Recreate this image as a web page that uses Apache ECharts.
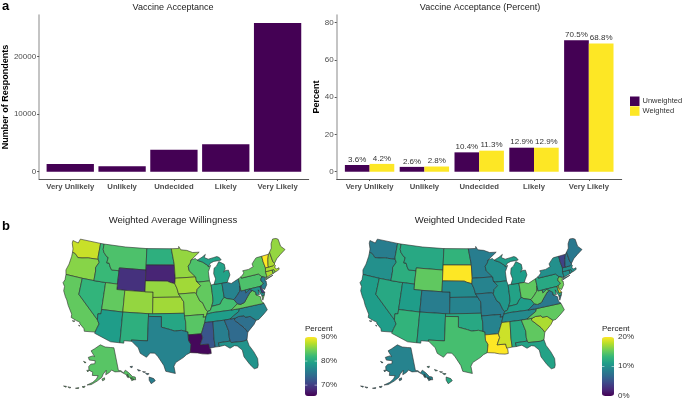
<!DOCTYPE html>
<html><head><meta charset="utf-8">
<style>html,body{margin:0;padding:0;background:#fff}#c{width:685px;height:402px}</style>
<script src="https://cdn.jsdelivr.net/npm/echarts@6/dist/echarts.min.js"></script>
</head><body><div id="c"></div>
<script>
const categories = ['Very Unlikely','Unlikely','Undecided','Likely','Very Likely'];
const categoryPositions = [1,2,3,4,5];
const respondents = [1340, 940, 3830, 4760, 25850];
const unweighted = [3.6, 2.6, 10.4, 12.9, 70.5];
const weighted = [4.2, 2.8, 11.3, 12.9, 68.8];
const countTicks = [0, 10000, 20000];
const percentTicks = [0, 20, 40, 60, 80];
const willingnessTicks = [70, 80, 90];
const undecidedTicks = [0, 10, 20];
const stateNames = ['Washington','Oregon','California','Nevada','Idaho','Montana','Wyoming','Utah','Colorado','Arizona','New Mexico','North Dakota','South Dakota','Nebraska','Kansas','Oklahoma','Texas','Minnesota','Iowa','Missouri','Arkansas','Louisiana','Wisconsin','Illinois','Indiana','Michigan','Ohio','Kentucky','Tennessee','Mississippi','Alabama','Georgia','Florida','South Carolina','North Carolina','Virginia','West Virginia','Pennsylvania','New York','Maryland','Delaware','New Jersey','Connecticut','Rhode Island','Massachusetts','Vermont','New Hampshire','Maine','Alaska','Hawaii'];
const willingness = [88,85.5,84,81.5,82,83,69,84,86,79,81,81,68,86,86.5,80,76.5,86,86.5,85,83.5,66,83,84,80,79.5,76.5,82.5,79,72,76,74,78,74.5,77,84,74,83,84,78,70,76,87,85,87,90,87,86,83.5,76];
const undecided = [8.5,10,11,12,12.5,12,15,11,8.5,13,11.5,13,20,9.5,9,12,14,8.5,9,8.5,9,20,10,10.5,11.5,11,15,11,9.5,18.5,12,15,11.5,17.5,15,8,15,12,10,12,19,15.5,10,10,10,4,8,8,9,12];
const viridis = ['#440154','#482878','#3e4989','#31688e','#26828e','#1f9e89','#35b779','#6ece58','#b5de2b','#fde725'];

// Simplified state outlines as [lon, lat] rings
const stateShapes = {
Washington:[[[-124.7,48.4],[-123.1,48.2],[-122.8,49],[-117.03,49],[-117.04,46.4],[-116.9,46],[-119,45.93],[-119.6,45.92],[-121.2,45.65],[-122.3,45.55],[-122.8,45.9],[-123.4,46.2],[-124,46.25],[-124.1,46.9],[-124.7,47.9]]],
Oregon:[[[-124,46.25],[-123.4,46.2],[-122.8,45.9],[-122.3,45.55],[-121.2,45.65],[-119.6,45.92],[-119,45.93],[-116.9,46],[-116.5,45.5],[-117.2,44.4],[-117.03,43.8],[-117.03,42],[-120,42],[-124.2,42],[-124.5,42.8],[-124.1,44],[-123.95,45.5]]],
California:[[[-124.2,42],[-120,42],[-120,39],[-114.63,35],[-114.13,34.3],[-114.5,33.4],[-114.72,32.72],[-117.12,32.53],[-117.3,33],[-118.4,33.75],[-118.5,34.03],[-119.2,34.15],[-120.6,34.55],[-120.65,35.15],[-121.9,36.6],[-122.5,37.5],[-123,38],[-123.75,39],[-123.8,39.8],[-124.4,40.4],[-124.1,41]],[[-120.2,34],[-119.6,34.05],[-119.9,33.9]],[[-118.6,33.45],[-118.3,33.35],[-118.5,33.3]]],
Nevada:[[[-120,42],[-117.03,42],[-114.04,42],[-114.04,37],[-114.04,36.2],[-114.75,36.1],[-114.63,35],[-120,39]]],
Idaho:[[[-117.03,49],[-116.05,49],[-116.05,48],[-115.7,47.45],[-114.7,46.7],[-114.35,46.65],[-114.5,45.6],[-113.9,45.65],[-113.45,44.95],[-113,44.45],[-111.05,44.48],[-111.05,42],[-114.04,42],[-117.03,42],[-117.03,43.8],[-117.2,44.4],[-116.5,45.5],[-116.9,46],[-117.04,46.4]]],
Montana:[[[-116.05,49],[-110,49],[-104.05,49],[-104.05,45.94],[-104.05,45],[-111.05,45],[-111.05,44.48],[-113,44.45],[-113.45,44.95],[-113.9,45.65],[-114.5,45.6],[-114.35,46.65],[-114.7,46.7],[-115.7,47.45],[-116.05,48]]],
Wyoming:[[[-111.05,45],[-104.05,45],[-104.05,43],[-104.05,41],[-109.05,41],[-111.05,41],[-111.05,42],[-111.05,44.48]]],
Utah:[[[-114.04,42],[-111.05,42],[-111.05,41],[-109.05,41],[-109.05,37],[-114.04,37]]],
Colorado:[[[-109.05,41],[-104.05,41],[-102.05,41],[-102.05,40],[-102.05,37],[-103,37],[-109.05,37]]],
Arizona:[[[-114.04,37],[-109.05,37],[-109.05,31.33],[-111.07,31.33],[-114.81,32.5],[-114.72,32.72],[-114.5,33.4],[-114.13,34.3],[-114.63,35],[-114.75,36.1],[-114.04,36.2]]],
'New Mexico':[[[-109.05,37],[-103,37],[-103,36.5],[-103.04,32],[-106.62,32],[-106.5,31.78],[-108.2,31.78],[-108.2,31.33],[-109.05,31.33]]],
'North Dakota':[[[-104.05,49],[-97.23,49],[-96.55,46],[-96.56,45.94],[-104.05,45.94]]],
'South Dakota':[[[-104.05,45.94],[-96.56,45.94],[-96.45,43.5],[-96.6,42.5],[-97.9,42.8],[-98.5,43],[-104.05,43]]],
Nebraska:[[[-104.05,43],[-98.5,43],[-97.9,42.8],[-96.6,42.5],[-96.1,41.6],[-95.77,40.58],[-95.3,40],[-102.05,40],[-102.05,41],[-104.05,41]]],
Kansas:[[[-102.05,40],[-95.3,40],[-94.62,39.1],[-94.62,37],[-102.05,37]]],
Oklahoma:[[[-103,37],[-102.05,37],[-94.62,37],[-94.62,36.5],[-94.43,35.4],[-94.48,33.64],[-95.5,33.9],[-97,33.8],[-98,34.1],[-100,34.56],[-100,36.5],[-103,36.5]]],
Texas:[[[-103,36.5],[-100,36.5],[-100,34.56],[-98,34.1],[-97,33.8],[-95.5,33.9],[-94.48,33.64],[-94.04,33.55],[-94.04,33],[-94.04,32],[-93.55,31.2],[-93.84,29.7],[-94.7,29.35],[-95.3,28.9],[-97,28],[-97.4,27.3],[-97.15,25.96],[-99.1,26.4],[-99.5,27.5],[-100.7,29.1],[-101.4,29.77],[-102.4,29.77],[-103.15,28.97],[-104.5,29.65],[-105,30.65],[-106.5,31.78],[-106.62,32],[-103.04,32]]],
Minnesota:[[[-97.23,49],[-95.15,49],[-95.15,49.38],[-94.6,48.72],[-93,48.55],[-91.4,48.06],[-89.6,48],[-92,46.7],[-92.3,46.1],[-92.9,45.6],[-92.75,44.75],[-91.2,43.5],[-96.45,43.5],[-96.56,45.94],[-96.55,46]]],
Iowa:[[[-96.45,43.5],[-91.2,43.5],[-91.1,42.7],[-90.15,41.8],[-91.1,41.2],[-91.42,40.38],[-91.73,40.61],[-95.77,40.58],[-96.1,41.6],[-96.6,42.5]]],
Missouri:[[[-95.77,40.58],[-91.73,40.61],[-91.42,40.38],[-90.7,39],[-90.15,38.7],[-89.5,37.3],[-89.13,36.98],[-89.4,36.5],[-89.7,36],[-90.37,36],[-90.15,36.5],[-94.62,36.5],[-94.62,37],[-94.62,39.1],[-95.3,40]]],
Arkansas:[[[-94.62,36.5],[-90.15,36.5],[-90.37,36],[-89.7,36],[-90.1,35],[-91.1,33],[-94.04,33],[-94.04,33.55],[-94.48,33.64],[-94.43,35.4]]],
Louisiana:[[[-94.04,33],[-91.1,33],[-90.9,32.3],[-91.6,31],[-89.75,31],[-89.6,30.2],[-89.4,30],[-89.4,29.2],[-90.1,29.15],[-91.3,29.3],[-92.3,29.55],[-93.84,29.7],[-93.55,31.2],[-94.04,32]]],
Wisconsin:[[[-92,46.7],[-90.8,46.9],[-90.4,46.55],[-89,46.1],[-87.8,45.4],[-87.6,45.1],[-87,45.3],[-87.8,44.2],[-87.8,42.5],[-90.65,42.5],[-91.1,42.7],[-91.2,43.5],[-92.75,44.75],[-92.9,45.6],[-92.3,46.1]]],
Illinois:[[[-90.65,42.5],[-87.8,42.5],[-87.53,41.7],[-87.53,39.3],[-87.6,38.7],[-88.05,37.8],[-88.5,37.1],[-89.13,36.98],[-89.5,37.3],[-90.15,38.7],[-90.7,39],[-91.42,40.38],[-91.1,41.2],[-90.15,41.8],[-91.1,42.7]]],
Indiana:[[[-87.53,41.7],[-86.8,41.76],[-84.8,41.73],[-84.8,39.1],[-85.4,38.7],[-86,38],[-87,37.9],[-88.05,37.8],[-87.6,38.7],[-87.53,39.3]]],
Michigan:[[[-86.8,41.76],[-84.8,41.73],[-83.45,41.73],[-83.1,42.2],[-82.45,43],[-82.6,43.9],[-83.4,43.95],[-83.9,43.7],[-83.35,44.3],[-83.4,45.1],[-84.7,45.78],[-85.5,45],[-86.2,44.7],[-86.5,43.7],[-86.2,42.7]],[[-90.4,46.55],[-89,47],[-88,47.45],[-88.4,46.9],[-87.4,46.5],[-86,46.65],[-85,46.75],[-84.4,46.5],[-84,46],[-84.8,45.95],[-86,45.95],[-87,45.7],[-87.6,45.1],[-87.8,45.4],[-89,46.1]]],
Ohio:[[[-84.8,41.73],[-83.45,41.73],[-82.5,41.4],[-81.2,41.8],[-80.52,42],[-80.52,40.64],[-80.85,39.7],[-81.7,39],[-82.6,38.4],[-84.2,38.8],[-84.8,39.1]]],
Kentucky:[[[-89.13,36.98],[-88.5,37.1],[-88.05,37.8],[-87,37.9],[-86,38],[-85.4,38.7],[-84.8,39.1],[-84.2,38.8],[-82.6,38.4],[-81.97,37.54],[-83.68,36.6],[-88,36.65],[-89.4,36.5]]],
Tennessee:[[[-90.1,35],[-89.7,36],[-89.4,36.5],[-88,36.65],[-83.68,36.6],[-81.7,36.59],[-82,36.1],[-84.3,35],[-85.6,34.98],[-88.2,35]]],
Mississippi:[[[-91.1,33],[-90.1,35],[-88.2,35],[-88.45,31.9],[-88.4,30.3],[-89.6,30.2],[-89.75,31],[-91.6,31],[-90.9,32.3]]],
Alabama:[[[-88.2,35],[-85.6,34.98],[-85,32.9],[-85.1,31.6],[-85,31],[-87.6,31],[-87.5,30.3],[-88.4,30.3],[-88.45,31.9]]],
Georgia:[[[-85.6,34.98],[-84.3,35],[-83.1,35],[-83.35,34.7],[-81.5,33],[-80.9,32.05],[-81.4,30.7],[-82.2,30.55],[-84.86,30.7],[-85,31],[-85.1,31.6],[-85,32.9]]],
Florida:[[[-87.6,31],[-85,31],[-84.86,30.7],[-82.2,30.55],[-81.4,30.7],[-81.2,29.6],[-80.5,28.3],[-80,26.9],[-80.15,25.7],[-80.4,25.2],[-81.1,25.15],[-81.8,26.1],[-82.7,27.7],[-82.8,29],[-83.7,29.9],[-84.3,30.05],[-85.3,29.7],[-86.3,30.4],[-87.5,30.3]]],
'South Carolina':[[[-83.1,35],[-82.3,35.2],[-81,35.15],[-80.8,34.82],[-79.67,34.8],[-78.55,33.86],[-79.2,33.2],[-80.9,32.05],[-81.5,33],[-83.35,34.7]]],
'North Carolina':[[[-84.3,35],[-82,36.1],[-81.7,36.59],[-75.87,36.55],[-75.5,35.25],[-76.5,34.65],[-77.9,33.9],[-78.55,33.86],[-79.67,34.8],[-80.8,34.82],[-81,35.15],[-82.3,35.2],[-83.1,35]]],
Virginia:[[[-83.68,36.6],[-81.97,37.54],[-81.3,37.3],[-80.3,37.5],[-79.3,38.4],[-78.4,39.15],[-77.75,39.32],[-77.1,38.85],[-77.2,38.4],[-76.3,37.9],[-76.3,37],[-75.87,36.55],[-81.7,36.59]],[[-75.9,37.95],[-75.3,38],[-75.95,37.15]]],
'West Virginia':[[[-82.6,38.4],[-81.7,39],[-80.85,39.7],[-80.52,40.64],[-80.52,39.72],[-79.48,39.72],[-79.48,39.2],[-78.4,39.65],[-77.75,39.32],[-78.4,39.15],[-79.3,38.4],[-80.3,37.5],[-81.3,37.3],[-81.97,37.54]]],
Pennsylvania:[[[-80.52,42],[-79.76,42.27],[-79.76,42],[-75.35,42],[-74.7,41.36],[-75.13,40.98],[-75.2,40.65],[-74.72,40.15],[-75.4,39.8],[-75.79,39.72],[-79.48,39.72],[-80.52,39.72],[-80.52,40.64]]],
'New York':[[[-79.76,42.27],[-79.05,42.7],[-78.9,42.9],[-79.05,43.27],[-77.5,43.27],[-76.2,43.55],[-76.3,44.1],[-75,44.95],[-74.7,45],[-73.35,45],[-73.4,44],[-73.25,42.75],[-73.5,42.05],[-73.5,41.3],[-73.65,41],[-73.9,41],[-74.7,41.36],[-75.35,42],[-79.76,42]],[[-74,40.6],[-72,41.05],[-73.7,40.87]]],
Maryland:[[[-79.48,39.72],[-75.79,39.72],[-75.7,38.46],[-75.05,38.45],[-75.3,38],[-75.9,37.95],[-76.3,38.9],[-76.4,39.2],[-76.4,38.3],[-77.2,38.4],[-77.1,38.85],[-77.75,39.32],[-78.4,39.65],[-79.48,39.2]]],
Delaware:[[[-75.79,39.72],[-75.4,39.8],[-75.55,39.45],[-75.05,38.45],[-75.7,38.46]]],
'New Jersey':[[[-74.7,41.36],[-73.9,41],[-74.25,40.5],[-74,40.4],[-74.1,39.7],[-74.9,38.95],[-75.55,39.45],[-75.4,39.8],[-74.72,40.15],[-75.2,40.65],[-75.13,40.98]]],
Connecticut:[[[-73.5,42.05],[-71.8,42.02],[-71.8,41.35],[-73.65,41],[-73.5,41.3]]],
'Rhode Island':[[[-71.8,42.02],[-71.38,42.02],[-71.15,41.5],[-71.8,41.35]]],
Massachusetts:[[[-73.5,42.05],[-73.25,42.75],[-72.46,42.73],[-71.3,42.7],[-70.85,42.87],[-70.65,42.65],[-71,42.3],[-70.6,41.95],[-70,42.05],[-70.05,41.75],[-70.6,41.6],[-71.15,41.5],[-71.38,42.02],[-71.8,42.02]]],
Vermont:[[[-73.35,45],[-71.5,45],[-72.05,44.1],[-72.45,43],[-72.46,42.73],[-73.25,42.75],[-73.4,44]]],
'New Hampshire':[[[-71.5,45],[-71.08,45.3],[-70.98,43.4],[-70.7,43.07],[-70.85,42.87],[-71.3,42.7],[-72.46,42.73],[-72.45,43],[-72.05,44.1]]],
Maine:[[[-71.08,45.3],[-70.3,45.9],[-70,46.7],[-69.2,47.45],[-68.3,47.35],[-67.8,47.07],[-67.8,45.7],[-67,44.85],[-68.5,44.3],[-69.8,43.75],[-70.7,43.07],[-70.98,43.4]]],
Alaska:[[[-141,69.65],[-141,60.3],[-139,60],[-137.5,58.9],[-135.5,59.8],[-133.5,58.4],[-131.8,56.5],[-130,55.9],[-130.4,54.8],[-132,55.2],[-134,56.5],[-136,58],[-139.5,59.7],[-144,60],[-146.5,60.9],[-148.5,60],[-151.5,59.2],[-151,61],[-153.5,59.5],[-154.5,58.2],[-158,56.6],[-162,55],[-164.8,54.6],[-161,56],[-158.5,57.5],[-157.5,58.8],[-162,58.7],[-162,60],[-165.3,60.6],[-166,62],[-164.5,63.1],[-161,63.5],[-161,64.7],[-166.5,64.6],[-168,65.6],[-164,66.5],[-162,66.3],[-163.8,67.2],[-166.5,68.4],[-163,69.5],[-156.7,71.3],[-151,70.4],[-145,70]],[[-154.5,57.5],[-152.5,58],[-152.5,57.2],[-154,56.8]],[[-135.5,57.8],[-134.5,58],[-134.8,56.5],[-135.6,56.9]],[[-133.5,56.2],[-132,56],[-131.6,55.1],[-133.2,55]],[[-168,53.5],[-166,54],[-166.5,53.3]],[[-172,52.3],[-170,52.9],[-170,52.5]],[[-177,51.9],[-175,52.1],[-175.5,51.7]],[[-179.8,51.6],[-178,51.9],[-178,51.5]],[[-167,60.4],[-165.2,60.5],[-166,59.8]],[[-171.5,63.6],[-169,63.4],[-170,63.1]]],
Hawaii:[[[-156,20.2],[-155.1,19.9],[-154.8,19.5],[-155.6,18.95],[-156,19.6]],[[-156.7,20.9],[-156,20.8],[-156.4,20.6]],[[-157.3,21.2],[-156.7,21.15],[-157,21.05]],[[-158.3,21.6],[-157.7,21.4],[-158.1,21.3]],[[-159.8,22.1],[-159.3,22.2],[-159.4,21.9]]]
};

function albers(lon, lat, lon0, lat0, lat1, lat2) {
  const r = Math.PI / 180;
  const n = (Math.sin(lat1*r) + Math.sin(lat2*r)) / 2;
  const C = Math.cos(lat1*r) ** 2 + 2*n*Math.sin(lat1*r);
  const rho0 = Math.sqrt(C - 2*n*Math.sin(lat0*r)) / n;
  const rho = Math.sqrt(C - 2*n*Math.sin(lat*r)) / n;
  const th = n * (lon - lon0) * r;
  return [rho*Math.sin(th), -(rho0 - rho*Math.cos(th))];
}
const usProjection = {
  project(p) {
    const lon = p[0], lat = p[1];
    if (lat > 50 && lon < -125) {
      const a = albers(lon, lat, -154, 63, 55, 65);
      return [a[0]*0.46 - 0.19, a[1]*0.46 + 0.175];
    }
    if (lat < 24 && lon < -140) {
      const a = albers(lon, lat, -157, 20.7, 8, 18);
      return [a[0] - 0.056, a[1] + 0.204];
    }
    return albers(lon, lat, -100, 37.5, 29.5, 45.5);
  },
  unproject(p) { return p; }
};

const usGeo = {
  type: 'FeatureCollection',
  features: stateNames.map(n => ({
    type: 'Feature', properties: { name: n },
    geometry: { type: 'MultiPolygon', coordinates: stateShapes[n].map(r => [r]) }
  }))
};
echarts.registerMap('USA_A', usGeo);
echarts.registerMap('USA_B', JSON.parse(JSON.stringify(usGeo)));

const FONT = '"Liberation Sans", Arial, sans-serif';
const pairs = v => v.map((y, i) => [categoryPositions[i], y]);
const pctLabel = {
  show: true, position: 'top', distance: 1.5, fontSize: 8, color: '#333', fontFamily: FONT,
  formatter: p => p.value[1].toFixed(1) + '%'
};
function xAxis(i) {
  return {
    gridIndex: i, type: 'value', min: 0.4, max: 5.6,
    axisLine: { onZero: false, lineStyle: { color: '#555', width: 1 } },
    axisTick: { show: true, length: 2, lineStyle: { color: '#555' }, customValues: categoryPositions },
    splitLine: { show: false },
    axisLabel: {
      customValues: categoryPositions, formatter: v => categories[Math.round(v) - 1],
      fontSize: 7.7, fontWeight: 'bold', color: '#4d4d4d', margin: 4, fontFamily: FONT, hideOverlap: false
    }
  };
}
function yAxis(i, min, max, ticks, name) {
  return {
    gridIndex: i, type: 'value', min, max,
    name, nameLocation: 'middle', nameGap: i === 0 ? 28 : 14.5,
    nameTextStyle: { fontSize: 9, fontWeight: 'bold', color: '#000', fontFamily: FONT },
    axisLine: { show: true, lineStyle: { color: '#b0b0b0', width: 1.5 } },
    axisTick: { show: true, length: 2, lineStyle: { color: '#555' }, customValues: ticks },
    splitLine: { show: false },
    axisLabel: { customValues: ticks, formatter: v => String(v), fontSize: 8, color: '#4d4d4d', margin: 3, fontFamily: FONT }
  };
}
function mapSeries(mapName, data, left) {
  return {
    type: 'map', map: mapName, projection: usProjection, roam: false,
    left, top: 235.5, width: 222, height: 156,
    preserveAspect: true, aspectScale: 1,
    label: { show: false },
    showLegendSymbol: false,
    selectedMode: false, silent: true,
    emphasis: { disabled: true },
    itemStyle: { borderColor: '#2b2b2b', borderWidth: 0.6 },
    data: stateNames.map((n, i) => ({ name: n, value: data[i] }))
  };
}
const barTop = 337, barHeight = 59, barWidth = 12;
function colorbarGraphics(ticks, min, max, barLeft, textLeft) {
  const els = [];
  ticks.forEach(v => {
    const y = barTop + barHeight - (v - min) / (max - min) * barHeight;
    els.push({
      type: 'text', left: textLeft, top: y - 4.5, z: 10,
      style: { text: v + '%', fontSize: 8, fill: '#333', fontFamily: FONT }
    });
    [[barLeft, barLeft + 2.4], [barLeft + barWidth - 2.4, barLeft + barWidth]].forEach(s => {
      els.push({ type: 'line', z: 20, shape: { x1: s[0], y1: y, x2: s[1], y2: y }, style: { stroke: '#fff', lineWidth: 0.5 } });
    });
  });
  els.push({ type: 'text', left: barLeft, top: 325, style: { text: 'Percent', fontSize: 8, fill: '#222', fontFamily: FONT } });
  return els;
}
const titles = [
  ['Vaccine Acceptance', 173, 3, 9], ['Vaccine Acceptance (Percent)', 480, 3, 9],
  ['Weighted Average Willingness', 173, 215, 9.5], ['Weighted Undecided Rate', 470, 215, 9.5]
];
const chart = echarts.init(document.getElementById('c'), null, { renderer: 'canvas' });
chart.setOption({
  animation: false, backgroundColor: '#fff',
  textStyle: { fontFamily: FONT },
  title: titles.map(t => ({
    text: t[0], left: t[1], top: t[2], textAlign: 'center', padding: 0,
    textStyle: { fontSize: t[3], fontWeight: 'normal', color: '#222', fontFamily: FONT }
  })),
  grid: [
    { left: 37, top: 15, width: 271.7, height: 164 },
    { left: 336.7, top: 15, width: 285, height: 164 }
  ],
  xAxis: [xAxis(0), xAxis(1)],
  yAxis: [yAxis(0, -1270, 27250, countTicks, 'Number of Respondents'), yAxis(1, -3.9, 84.1, percentTicks, 'Percent')],
  legend: {
    orient: 'vertical', left: 630, top: 96.5, itemWidth: 9.5, itemHeight: 9.5, itemGap: 0.3,
    padding: 0, selectedMode: false, icon: 'rect', data: ['Unweighted', 'Weighted'],
    textStyle: { fontSize: 7.5, color: '#333', fontFamily: FONT, padding: [0, 0, 0, -2] }
  },
  visualMap: [
    { type: 'continuous', seriesIndex: 3, min: 65.5, max: 90, left: 305, top: barTop, itemWidth: barWidth, itemHeight: barHeight, padding: 0, calculable: false, realtime: false, hoverLink: false, inRange: { color: viridis } },
    { type: 'continuous', seriesIndex: 4, min: 0, max: 20, left: 602, top: barTop, itemWidth: barWidth, itemHeight: barHeight, padding: 0, calculable: false, realtime: false, hoverLink: false, inRange: { color: viridis } }
  ],
  series: [
    { type: 'bar', xAxisIndex: 0, yAxisIndex: 0, data: pairs(respondents), barWidth: 47.3, itemStyle: { color: '#440154' } },
    { name: 'Unweighted', type: 'bar', xAxisIndex: 1, yAxisIndex: 1, data: pairs(unweighted), barWidth: 24.7, barGap: 0, itemStyle: { color: '#440154' }, label: pctLabel },
    { name: 'Weighted', type: 'bar', xAxisIndex: 1, yAxisIndex: 1, data: pairs(weighted), barWidth: 24.7, barGap: 0, itemStyle: { color: '#fde725' }, label: pctLabel },
    mapSeries('USA_A', willingness, 63),
    mapSeries('USA_B', undecided, 360)
  ],
  graphic: [
    { type: 'text', left: 2, top: 0, style: { text: 'a', fontSize: 13, fontWeight: 'bold', fill: '#000', fontFamily: FONT } },
    { type: 'text', left: 2, top: 220, style: { text: 'b', fontSize: 13, fontWeight: 'bold', fill: '#000', fontFamily: FONT } },
    ...colorbarGraphics(willingnessTicks, 65.5, 90, 305, 321),
    ...colorbarGraphics(undecidedTicks, 0, 20, 602, 618)
  ]
});
</script></body></html>
